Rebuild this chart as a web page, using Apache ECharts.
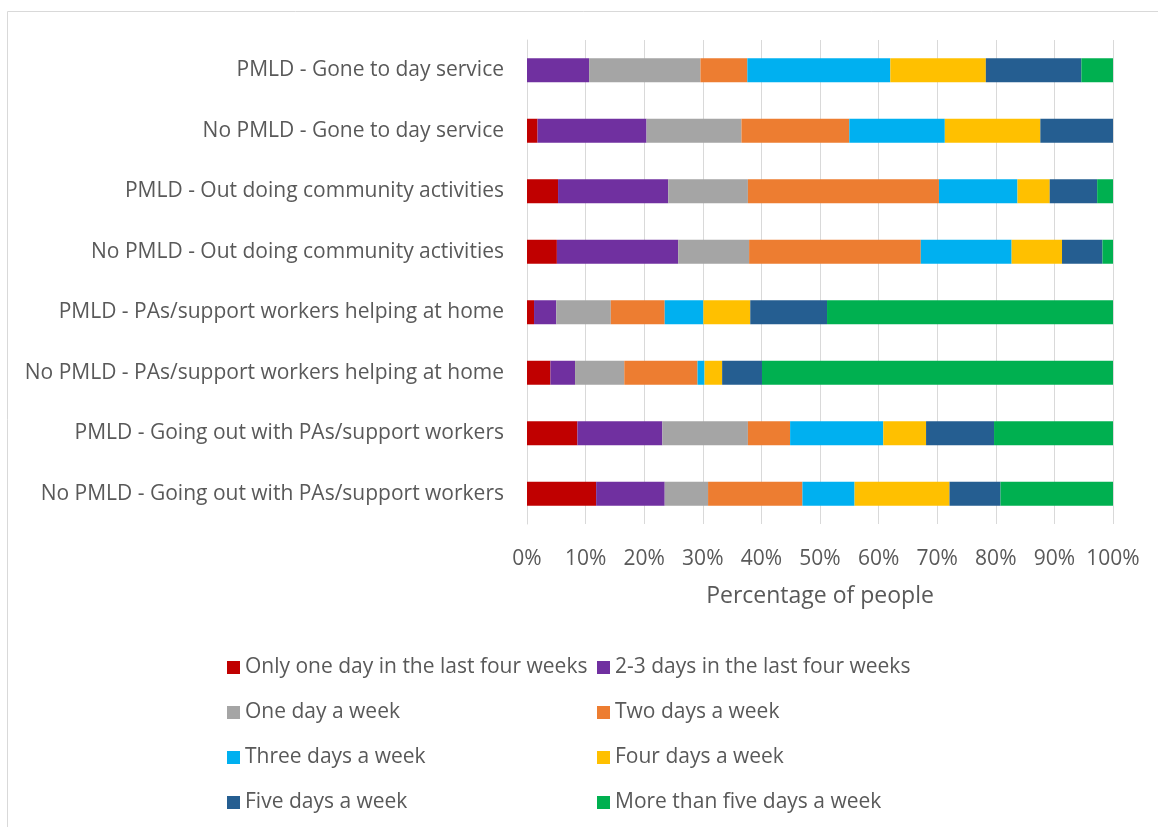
<!DOCTYPE html>
<html>
<head>
<meta charset="utf-8">
<script src="https://cdn.jsdelivr.net/npm/echarts@6/dist/echarts.min.js"></script>
<style>
  html, body { margin: 0; padding: 0; background: #ffffff; }
  #chart { width: 1158px; height: 827px; }
</style>
</head>
<body>
<div id="chart"></div>
<script>
// Rows, listed top to bottom
const categories = [
  'PMLD - Gone to day service',
  'No PMLD - Gone to day service',
  'PMLD - Out doing community activities',
  'No PMLD - Out doing community activities',
  'PMLD - PAs/support workers helping at home',
  'No PMLD - PAs/support workers helping at home',
  'PMLD - Going out with PAs/support workers',
  'No PMLD - Going out with PAs/support workers'
];

const seriesNames = [
  'Only one day in the last four weeks',
  '2-3 days in the last four weeks',
  'One day a week',
  'Two days a week',
  'Three days a week',
  'Four days a week',
  'Five days a week',
  'More than five days a week'
];

// Percentage of people per frequency band (one value per row)
const onlyOneDay   = [0,    1.8,  5.3,  5.1,  1.2,  4.0,  8.6,  11.8];
const twoThreeDays = [10.6, 18.6, 18.8, 20.7, 3.8,  4.2,  14.5, 11.7];
const oneDayWeek   = [19.0, 16.2, 13.6, 12.1, 9.3,  8.4,  14.6, 7.4];
const twoDaysWeek  = [8.0,  18.4, 32.6, 29.3, 9.2,  12.5, 7.2,  16.1];
const threeDays    = [24.4, 16.3, 13.4, 15.5, 6.6,  1.2,  15.9, 8.9];
const fourDays     = [16.3, 16.3, 5.5,  8.6,  8.0,  3.0,  7.3,  16.2];
const fiveDays     = [16.3, 12.4, 8.1,  6.9,  13.1, 6.8,  11.6, 8.7];
const moreThanFive = [5.4,  0,    2.7,  1.8,  48.8, 59.9, 20.3, 19.2];

const seriesValues = [onlyOneDay, twoThreeDays, oneDayWeek, twoDaysWeek,
                      threeDays, fourDays, fiveDays, moreThanFive];

const colors = ['#C00000', '#7030A0', '#A5A5A5', '#ED7D31',
                '#00B0F0', '#FFC000', '#255E91', '#00B050'];

const xTicks = { min: 0, max: 100, interval: 10 };

const fontFamily = '"Open Sans", Lato, sans-serif';
const textColor = '#595959';

const chart = echarts.init(document.getElementById('chart'), null, { renderer: 'canvas' });

const series = seriesNames.map((name, i) => ({
  name: name,
  type: 'bar',
  stack: 'total',
  barWidth: 24,
  itemStyle: { color: colors[i] },
  emphasis: { disabled: true },
  data: seriesValues[i]
}));

const legendText = { fontFamily: fontFamily, fontSize: 21, color: textColor };

function legendColumn(items, left) {
  return {
    data: items,
    orient: 'vertical', left: left, top: 652, height: 200,
    itemWidth: 13, itemHeight: 13, itemGap: 24,
    icon: 'rect', textStyle: legendText, selectedMode: false
  };
}

chart.setOption({
  animation: false,
  color: colors,
  graphic: [{
    type: 'rect',
    shape: { x: 7.5, y: 11.5, width: 1300, height: 1000 },
    style: { fill: 'none', stroke: '#d9d9d9', lineWidth: 1 },
    silent: true
  }],
  grid: { left: 527, right: 45, top: 40, height: 484 },
  xAxis: {
    type: 'value',
    min: xTicks.min,
    max: xTicks.max,
    interval: xTicks.interval,
    name: 'Percentage of people',
    nameLocation: 'middle',
    nameGap: 61,
    nameTextStyle: { fontFamily: fontFamily, fontSize: 23, color: textColor },
    axisLine: { show: false },
    axisTick: { show: false },
    axisLabel: {
      formatter: '{value}%',
      fontFamily: fontFamily, fontSize: 21, color: textColor, margin: 25
    },
    splitLine: { show: true, lineStyle: { color: '#d9d9d9', width: 1 } }
  },
  yAxis: {
    type: 'category',
    inverse: true,
    data: categories,
    axisLine: { show: true, lineStyle: { color: '#d9d9d9', width: 1 } },
    axisTick: { show: false },
    axisLabel: {
      fontFamily: fontFamily, fontSize: 21, color: textColor, margin: 23,
      padding: [4, 0, 0, 0]
    }
  },
  legend: [
    legendColumn([seriesNames[0], seriesNames[2], seriesNames[4], seriesNames[6]], 222),
    legendColumn([seriesNames[1], seriesNames[3], seriesNames[5], seriesNames[7]], 592)
  ],
  series: series
});
</script>
</body>
</html>
